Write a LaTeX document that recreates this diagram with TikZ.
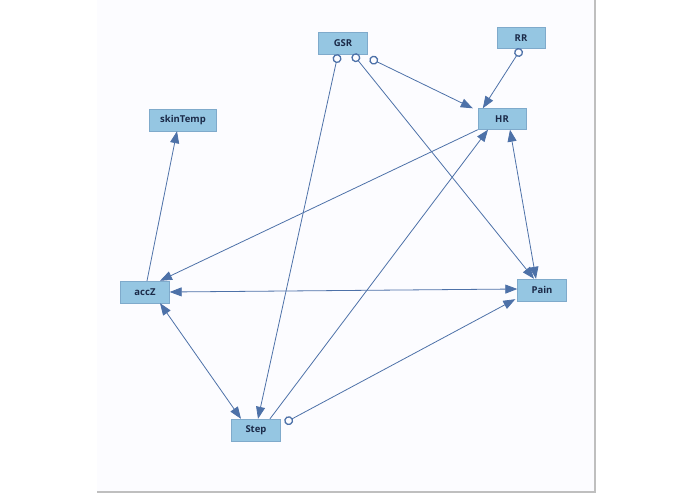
\documentclass[tikz,border=0pt]{standalone}
\usepackage{fontspec}
\setmainfont{Open Sans}
\usetikzlibrary{arrows.meta}
\definecolor{boxfill}{HTML}{95C6E2}
\definecolor{boxline}{HTML}{7FAACB}
\definecolor{edgec}{HTML}{4D71A8}
\definecolor{txt}{HTML}{1B2A48}
\tikzset{
  var/.style={draw=boxline,fill=boxfill,minimum height=22pt,minimum width=49pt,inner sep=0pt,
    font=\fontsize{9.5}{10}\selectfont\bfseries,text=txt},
  edge/.style={draw=edgec,line width=0.8pt},
  tri/.tip={Triangle[length=12pt,width=9pt]},
  circ/.tip={Circle[open,length=9pt,width=9pt,line width=1.3pt]},
}
\begin{document}
\begin{tikzpicture}[x=1pt,y=-1pt]
\useasboundingbox (0,0) rectangle (695,494);
\fill[white] (0,0) rectangle (695,494);
\fill[white!97!blue!30] (97,0) rectangle (595,492);
\fill[white!99!blue] (97,0) rectangle (595,492);
\draw[gray!50,line width=1.5pt] (595,0) -- (595,492) -- (97,492);
\node[var] (GSR) at (343,43) {GSR};
\node[var,minimum width=48pt,minimum height=21pt] (RR) at (521,38) {RR};
\node[var,minimum width=48pt,minimum height=21pt] (HR) at (502,119) {HR};
\node[var,minimum width=67pt] (skin) at (183,120) {skinTemp};
\node[var] (accZ) at (145,292) {accZ};
\node[var] (Pain) at (542,290) {Pain};
\node[var] (Step) at (256,430) {Step};
\begin{scope}[edge]
\draw[{circ}-{tri}] ([xshift=-5pt]GSR.south) -- ([xshift=2pt]Step.north);
\draw[{circ}-{tri}] ([xshift=10pt]GSR.south) -- ([xshift=-8pt]Pain.north);
\draw[{circ}-{tri}] ([xshift=2pt,yshift=-4pt]GSR.south east) -- ([xshift=-5pt]HR.north west);
\draw[{circ}-{tri}] (RR.south) -- ([xshift=5pt]HR.north west);
\draw[-{tri}] ([xshift=2pt]accZ.north) -- ([xshift=-6pt]skin.south);
\draw[-{tri}] (HR.south west) -- ([xshift=15pt]accZ.north);
\draw[{tri}-{tri}] (accZ.east) -- ([yshift=1pt]Pain.west);
\draw[{tri}-{tri}] ([xshift=15pt]accZ.south) -- ([xshift=-15pt]Step.north);
\draw[-{tri}] ([xshift=14pt]Step.north) -- ([xshift=-14pt]HR.south);
\draw[{circ}-{tri}] ([xshift=4pt,yshift=-4pt]Step.north east) -- ([xshift=-2pt,yshift=2pt]Pain.south west);
\draw[{tri}-{tri}] ([xshift=8pt]HR.south) -- ([xshift=-6pt]Pain.north);
\end{scope}
\end{tikzpicture}
\end{document}
